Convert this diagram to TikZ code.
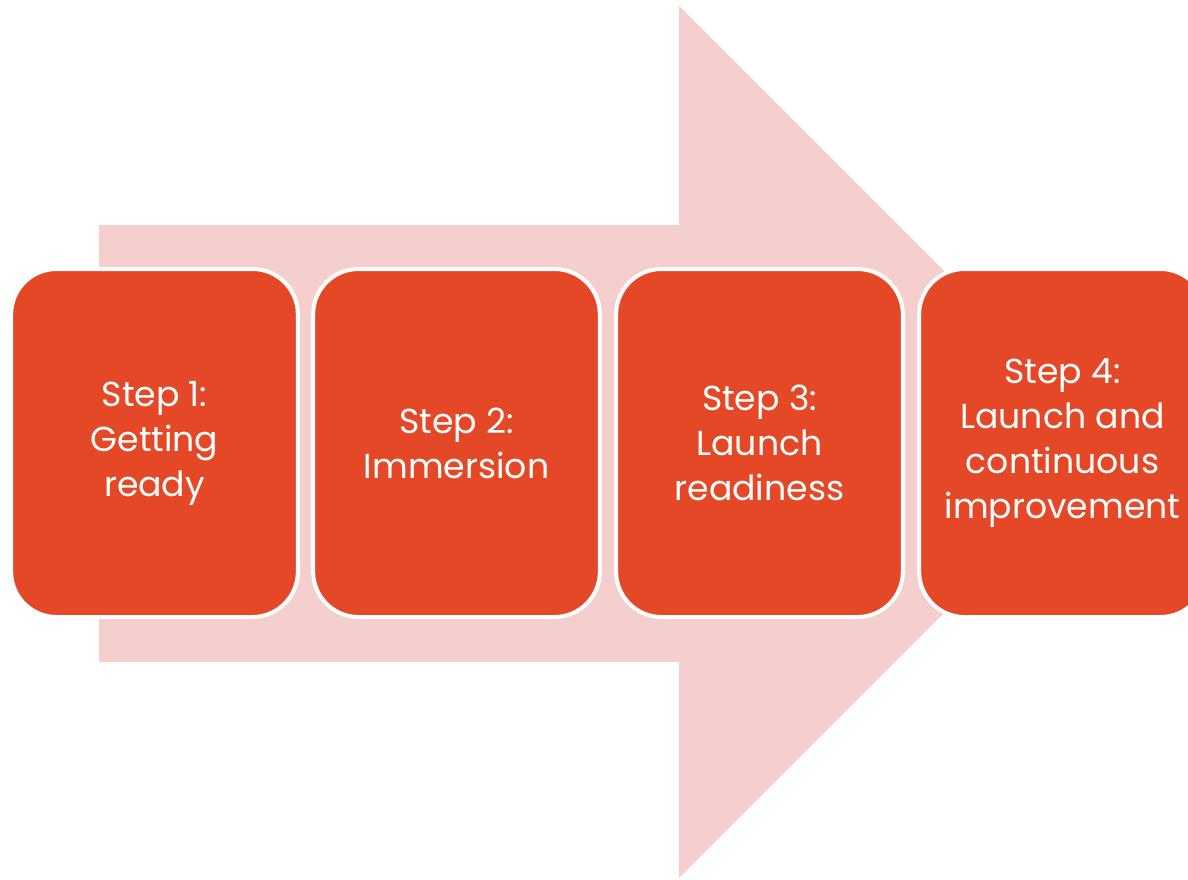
\documentclass[tikz,border=0pt]{standalone}
\usepackage{xcolor}
\usepackage{tikz}
\usepackage{fontspec}
\setmainfont{Poppins}
\definecolor{arrowpink}{RGB}{245,207,206}
\definecolor{steporange}{RGB}{229,72,38}
\tikzset{stepbox/.style={rectangle,rounded corners=34pt,fill=steporange,draw=white,line width=3pt,
		minimum width=215pt,minimum height=261pt,align=center,text=white,
		font=\fontsize{26}{33.75}\selectfont}}
\begin{document}
\begin{tikzpicture}[line cap=round,line join=round,x=0.75pt,y=-0.75pt]
		\useasboundingbox (0,0) rectangle (1188,879);
		\clip (0,0) rectangle (1188,879);
		% big arrow behind the steps
		\fill [color=arrowpink] (99,225)-- (679,225)-- (679,6)-- (1115,442)-- (679,878)-- (679,662)-- (99,662)-- cycle;
		% steps
		\node (step1) [stepbox] at (154.5,443) {Step 1:\\Getting\\ready};
		\node (step2) [stepbox] at (456.5,443) {Step 2:\\Immersion};
		\node (step3) [stepbox] at (759.5,443) {Step 3:\\Launch\\readiness};
		\node (step4) [stepbox] at (1062.5,443) {Step 4:\\Launch and\\continuous\\improvement};
	\end{tikzpicture}
\end{document}
